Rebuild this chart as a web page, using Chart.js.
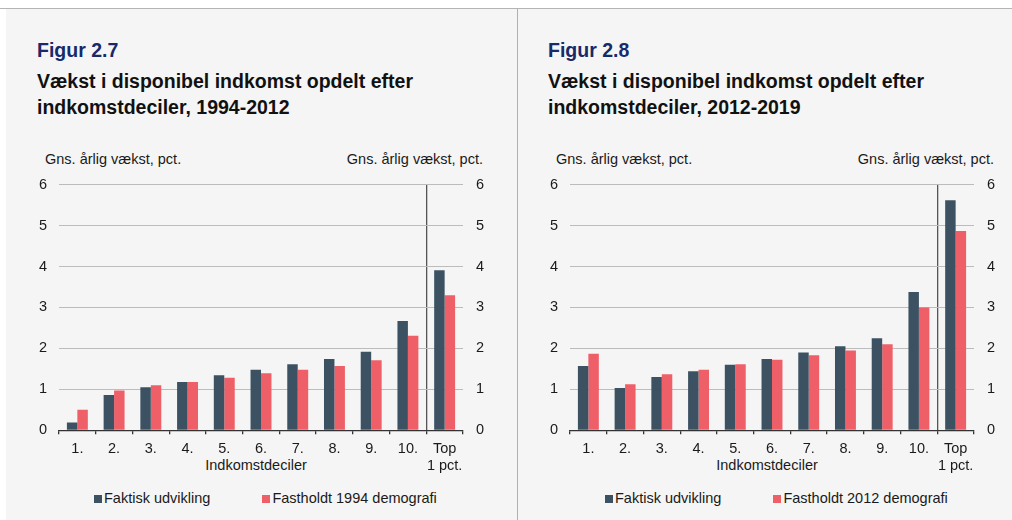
<!DOCTYPE html>
<html>
<head>
<meta charset="utf-8">
<script src="https://cdn.jsdelivr.net/npm/chart.js@4.4.1/dist/chart.umd.min.js"></script>
<style>
  body { margin: 0; background: #fff; width: 1012px; height: 520px; overflow: hidden;
         font-family: "Liberation Sans", Arial, sans-serif; color: #1a1a1a; position: relative; }
  .topline { position: absolute; left: 0; top: 8px; width: 1012px; height: 1px; background: #b4b4b4; }
  .panel { position: absolute; left: 6px; top: 9px; width: 1006px; height: 511px; background: #f5f5f5; }
  .divider { position: absolute; left: 517px; top: 9px; width: 1px; height: 511px; background: #b0b0b0; }
  .fig { position: absolute; font-weight: bold; font-size: 19.5px; line-height: 20px; color: #172a6a; white-space: nowrap; }
  .title { position: absolute; font-weight: bold; font-size: 19.5px; line-height: 26px; color: #111; white-space: nowrap; }
  .unit { position: absolute; font-size: 14.5px; line-height: 16px; white-space: nowrap; }
  .xtitle { position: absolute; font-size: 14.5px; line-height: 16px; white-space: nowrap; transform: translateX(-50%); }
  .legend { position: absolute; font-size: 14.5px; line-height: 16px; white-space: nowrap; }
  .legend span.item { display: inline-block; margin-right: 52px; }
  .legend span.box { display: inline-block; width: 8px; height: 8px; margin-right: 2px; vertical-align: 0px; }
  canvas { position: absolute; }
</style>
</head>
<body>
<div class="topline"></div>
<div class="panel"></div>
<div class="divider"></div>

<div class="fig" style="left:37px; top:40px;">Figur 2.7</div>
<div class="title" style="left:37px; top:68px;">Vækst i disponibel indkomst opdelt efter<br>indkomstdeciler, 1994-2012</div>
<div class="unit" style="left:45px; top:151px;">Gns. årlig vækst, pct.</div>
<div class="unit" style="right:529px; top:151px;">Gns. årlig vækst, pct.</div>
<div class="xtitle" style="left:256px; top:457px;">Indkomstdeciler</div>
<div class="legend" id="legend1" style="left:94px; top:490px;"></div>
<div id="wrap1" style="position:absolute; left:20px; top:163px; width:480px; height:318px;"><canvas id="chart1"></canvas></div>

<div class="fig" style="left:548px; top:40px;">Figur 2.8</div>
<div class="title" style="left:548px; top:68px;">Vækst i disponibel indkomst opdelt efter<br>indkomstdeciler, 2012-2019</div>
<div class="unit" style="left:556px; top:151px;">Gns. årlig vækst, pct.</div>
<div class="unit" style="right:18px; top:151px;">Gns. årlig vækst, pct.</div>
<div class="xtitle" style="left:767px; top:457px;">Indkomstdeciler</div>
<div class="legend" id="legend2" style="left:605px; top:490px;"></div>
<div id="wrap2" style="position:absolute; left:531px; top:163px; width:480px; height:318px;"><canvas id="chart2"></canvas></div>

<script>
// Indkomstdeciler
const categories = ['1.', '2.', '3.', '4.', '5.', '6.', '7.', '8.', '9.', '10.', ['Top', '1 pct.']];

// Figur 2.7, 1994-2012 (gns. årlig vækst, pct.)
const faktisk9412 = [0.19, 0.86, 1.05, 1.18, 1.34, 1.48, 1.61, 1.74, 1.92, 2.67, 3.91];
const fastholdt9412 = [0.50, 0.97, 1.10, 1.18, 1.28, 1.39, 1.48, 1.57, 1.71, 2.31, 3.30];

// Figur 2.8, 2012-2019
const faktisk1219 = [1.57, 1.03, 1.30, 1.44, 1.60, 1.74, 1.90, 2.05, 2.25, 3.38, 5.62];
const fastholdt1219 = [1.87, 1.12, 1.37, 1.48, 1.61, 1.72, 1.83, 1.95, 2.10, 3.00, 4.87];

const yMin = 0;
const yMax = 6;
const yStep = 1;

const dark = '#3c5263';
const red = '#ee5f68';
const gridCol = '#bcbcbc';
const axisCol = '#333333';
const textCol = '#1a1a1a';

Chart.defaults.font.family = '"Liberation Sans", Arial, sans-serif';
Chart.defaults.font.size = 14.5;
Chart.defaults.color = textCol;

function makeChart(id, legendId, faktisk, fastholdt, fastLabel) {
  const chart = new Chart(document.getElementById(id), {
    type: 'bar',
    data: {
      labels: categories,
      datasets: [
        { label: 'Faktisk udvikling', data: faktisk, backgroundColor: dark },
        { label: fastLabel, data: fastholdt, backgroundColor: red }
      ]
    },
    options: {
      responsive: true,
      maintainAspectRatio: false,
      animation: false,
      categoryPercentage: 0.57,
      barPercentage: 1.0,
      layout: { padding: 0 },
      plugins: { legend: { display: false }, tooltip: { enabled: false } },
      scales: {
        x: {
          grid: {
            offset: true,
            drawOnChartArea: true,
            // only the line between 10. and Top 1 pct. is shown
            color: (c) => c.index === 10 ? '#555555' : 'rgba(0,0,0,0)',
            tickColor: axisCol,
            tickLength: 4,
            lineWidth: 1.3
          },
          border: { color: axisCol, width: 1.3 },
          ticks: { padding: 6, maxRotation: 0, autoSkip: false }
        },
        y: {
          position: 'left',
          min: yMin, max: yMax,
          ticks: { stepSize: yStep, padding: 12 },
          grid: { color: gridCol, lineWidth: 1, drawTicks: false },
          border: { display: false },
          afterFit: (s) => { s.width = 39; }
        },
        y2: {
          position: 'right',
          min: yMin, max: yMax,
          ticks: { stepSize: yStep, padding: 13 },
          grid: { display: false, drawTicks: false },
          border: { display: false },
          afterFit: (s) => { s.width = 37; }
        }
      }
    }
  });

  // legend from the datasets
  const leg = document.getElementById(legendId);
  chart.data.datasets.forEach((ds) => {
    const item = document.createElement('span');
    item.className = 'item';
    const box = document.createElement('span');
    box.className = 'box';
    box.style.background = ds.backgroundColor;
    item.appendChild(box);
    item.appendChild(document.createTextNode(ds.label));
    leg.appendChild(item);
  });
  return chart;
}

makeChart('chart1', 'legend1', faktisk9412, fastholdt9412, 'Fastholdt 1994 demografi');
makeChart('chart2', 'legend2', faktisk1219, fastholdt1219, 'Fastholdt 2012 demografi');
</script>
</body>
</html>
